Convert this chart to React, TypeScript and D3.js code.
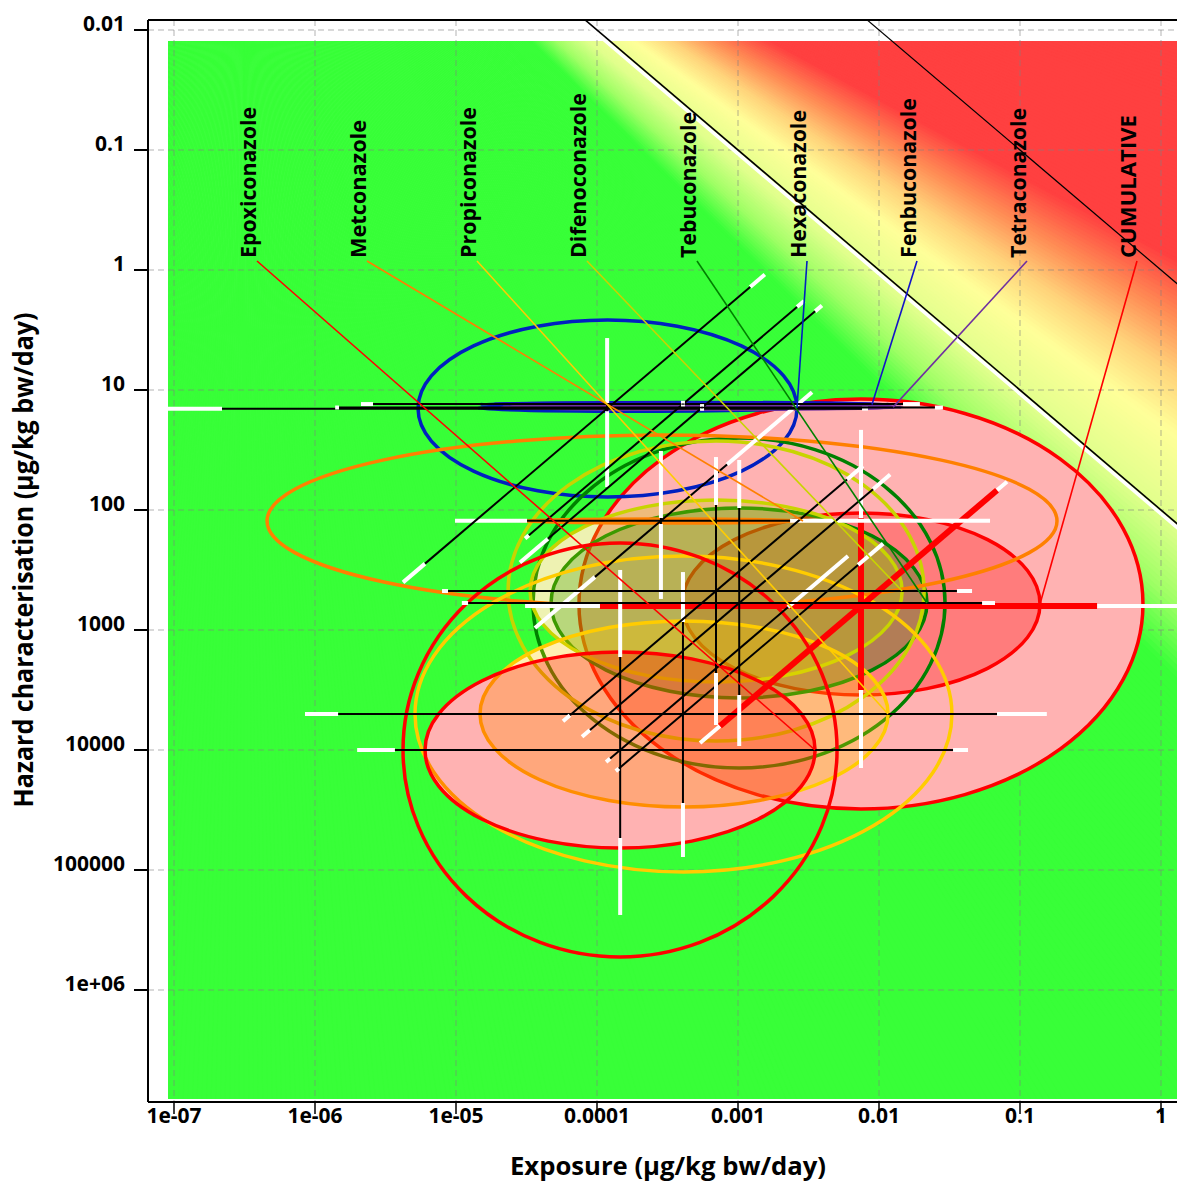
import React from "react";
import * as d3 from "d3";

// ---------- data ----------
const substances = ["Epoxiconazole", "Metconazole", "Propiconazole", "Difenoconazole", "Tebuconazole", "Hexaconazole", "Fenbuconazole", "Tetraconazole", "CUMULATIVE"];
const colors = ["#ff0000", "#ff8000", "#ffcc00", "#c8d400", "#008000", "#0020c0", "#1414c8", "#7030a0", "#ff0000"];
const medianExposure = [1.46e-4, 2.84e-4, 4.07e-4, 6.98e-4, 1.02e-3, 1.18e-4, 4.07e-4, 5.56e-4, 7.45e-3];
const medianHazard = [1.0e4, 123, 5010, 473, 596, 14.3, 13.1, 14.0, 631];

// exposure uncertainty [outer lo, inner lo, inner hi, outer hi]
const exposureBars = [
  [1.99e-6, 3.69e-6, 0.0335, 0.0428],
  [9.84e-6, 3.19e-5, 2.34e-3, 0.0613],
  [8.49e-7, 1.46e-6, 0.0687, 0.155],
  [7.96e-6, 8.78e-6, 0.0357, 0.0457],
  [1.1e-5, 1.22e-5, 0.0538, 0.0665],
  [9.07e-8, 2.19e-7, 7.58e-3, 8.35e-3],
  [2.12e-6, 2.58e-6, 0.0148, 0.0195],
  [1.39e-6, 1.48e-6, 0.0249, 0.0284],
  [3.09e-5, 1.05e-4, 0.352, 2.0],
];
// hazard uncertainty [outer lo, inner lo, inner hi, outer hi]
const hazardBars = [
  [316, 1679, 54100, 237000],
  [32.2, 116.6, 130.8, 551],
  [329, 858, 27650, 77900],
  [36.2, 90.9, 2282, 6190],
  [38.3, 96.2, 3480, 9260],
  [3.69, 13.3, 15.0, 64.3],
  [12.3, 13.0, 13.2, 13.9],
  [13.1, 13.8, 14.2, 14.9],
  [21.5, 116.6, 3162, 14130],
];
// risk uncertainty, as exposure at the ends of the diagonal [outer lo, inner lo, inner hi, outer hi]
const riskBars = [
  [1.16e-4, 1.24e-4, 2.26e-3, 6.03e-3],
  [3.63e-5, 9.68e-5, 8.36e-4, 3.35e-3],
  [1.36e-4, 1.43e-4, 7.1e-3, 0.0107],
  [5.74e-5, 6.43e-5, 5.93e-3, 7.7e-3],
  [7.83e-5, 8.92e-5, 9.07e-3, 0.012],
  [4.21e-6, 6.03e-6, 1.22e-3, 1.55e-3],
  [3.09e-5, 3.29e-5, 2.62e-3, 2.94e-3],
  [2.84e-5, 4.49e-5, 3.52e-3, 3.94e-3],
  [5.38e-4, 7.45e-4, 0.0687, 0.0809],
];
// ellipse extents [exposure lo, exposure hi, hazard lo, hazard hi]
const outerEllipses = [
  [4.21e-6, 5.04e-3, 188, 531000],
  [4.57e-7, 0.183, 23.7, 643],
  [5.12e-6, 0.0329, 242, 103900],
  [2.34e-5, 0.0209, 26.6, 8410],
  [3.52e-5, 0.0294, 25.1, 14130],
  [5.38e-6, 2.62e-3, 2.61, 77.9],
  [1.48e-5, 0.0118, 12.7, 13.7],
  [2.12e-5, 0.0146, 13.3, 14.5],
  [7.45e-5, 0.745, 11.9, 31000],
];
const innerEllipses = [
  [6.03e-6, 3.52e-3, 1526, 65560],
  [2.84e-5, 2.89e-3, 118.9, 128.3],
  [1.48e-5, 0.0116, 841, 29850],
  [3.35e-5, 0.0146, 82.5, 2713],
  [4.72e-5, 0.0219, 96.2, 3687],
  [1.41e-5, 2.62e-3, 13.3, 15.0],
  [1.86e-5, 8.92e-3, 12.9, 13.5],
  [2.46e-5, 0.0126, 13.6, 14.2],
  [4.01e-4, 0.1386, 105.9, 3480],
];
const innerFilled = [true, false, true, true, true, false, false, false, true];
const outerFilled = [false, false, false, false, false, false, false, false, true];
const drawOrder = [8, 5, 6, 7, 4, 3, 1, 2, 0];

const xTicks = [1e-7, 1e-6, 1e-5, 1e-4, 1e-3, 1e-2, 1e-1, 1];
const xTickLabels = ["1e-07", "1e-06", "1e-05", "0.0001", "0.001", "0.01", "0.1", "1"];
const yTicks = [0.01, 0.1, 1, 10, 100, 1000, 1e4, 1e5, 1e6];
const yTickLabels = ["0.01", "0.1", "1", "10", "100", "1000", "10000", "100000", "1e+06"];
const moeRatios = [100, 1]; // hazard = ratio * exposure

// background colour ramp (angle in degrees -> colour)
const rampAngles = [28.3, 31, 33.5, 36, 39.5, 42.2, 44.6];
const rampColors = ["#ff4040", "#ff8c55", "#ffd27a", "#ffff99", "#e0ff8c", "#a0ff66", "#38ff38"];

// ---------- layout ----------
const W = 1177, H = 1182;
const plot = { left: 148, right: 1177, top: 20, bottom: 1102 };
const bg = { left: 168, right: 1177, top: 41, bottom: 1099 };
const FONT = "'Open Sans', 'DejaVu Sans', sans-serif";
const labelLengths = [151, 138, 151, 165, 146, 148, 160, 150, 143];

const x = d3.scaleLog().domain([1e-7, 1]).range([174, 1161]);
const y = d3.scaleLog().domain([0.01, 1e6]).range([30, 990]);

function ell(b: number[]) {
  const x0 = x(b[0]), x1 = x(b[1]), y0 = y(b[2]), y1 = y(b[3]);
  return { cx: (x0 + x1) / 2, cy: (y0 + y1) / 2, rx: Math.abs(x1 - x0) / 2, ry: Math.max(Math.abs(y1 - y0) / 2, 0.5) };
}

const ramp = d3.scaleLinear<string>().domain(rampAngles).range(rampColors).interpolate(d3.interpolateRgb).clamp(true);

function Background() {
  const c = [244, -242];
  const R = 3000;
  const step = 0.2;
  const wedges: JSX.Element[] = [];
  for (let a = 5; a < 125; a += step) {
    const a0 = (a * Math.PI) / 180, a1 = ((a + step + 0.06) * Math.PI) / 180;
    const d = `M${c[0]},${c[1]}L${c[0] + R * Math.cos(a0)},${c[1] + R * Math.sin(a0)}L${c[0] + R * Math.cos(a1)},${c[1] + R * Math.sin(a1)}Z`;
    const col = ramp(a + step / 2);
    wedges.push(<path key={a} d={d} fill={col} stroke={col} strokeWidth={0.6} />);
  }
  return <g clipPath="url(#bgClip)">{wedges}</g>;
}

function Bar({ pts, main, mainW, whiteW }: { pts: number[][]; main: string; mainW: number; whiteW: number }) {
  const line = d3.line();
  return (
    <g>
      <path d={line([pts[0], pts[1]] as any) || ""} stroke="#fff" strokeWidth={whiteW} fill="none" />
      <path d={line([pts[2], pts[3]] as any) || ""} stroke="#fff" strokeWidth={whiteW} fill="none" />
      <path d={line([pts[1], pts[2]] as any) || ""} stroke={main} strokeWidth={mainW} fill="none" />
    </g>
  );
}

export default function App() {
  const barOrder = [8, 0, 1, 2, 3, 4, 5, 6, 7];
  return (
    <svg width={W} height={H} style={{ position: "absolute", left: 0, top: 0, background: "#fff" }} fontFamily={FONT}>
      <defs>
        <clipPath id="bgClip"><rect x={bg.left} y={bg.top} width={bg.right - bg.left} height={bg.bottom - bg.top} /></clipPath>
        <clipPath id="plotClip"><rect x={plot.left} y={plot.top} width={plot.right - plot.left} height={plot.bottom - plot.top} /></clipPath>
      </defs>
      <rect x={0} y={0} width={W} height={H} fill="#fff" />
      <Background />
      {/* grid */}
      <g stroke="#808080" strokeOpacity={0.4} strokeWidth={1.5} strokeDasharray="6,4">
        {xTicks.map((t, i) => <line key={"gx" + i} x1={x(t)} x2={x(t)} y1={plot.top} y2={plot.bottom} />)}
        {yTicks.map((t, i) => <line key={"gy" + i} x1={plot.left} x2={plot.right} y1={y(t)} y2={y(t)} />)}
      </g>
      <g clipPath="url(#plotClip)">
        {/* MOE lines */}
        {moeRatios.map((r, i) => {
          const p0: [number, number] = [x(1e-9), y(r * 1e-9)];
          const p1: [number, number] = [x(10), y(r * 10)];
          return (
            <g key={"moe" + i}>
              {i === 0 && <line x1={p0[0] - 1.5} y1={p0[1] + 2.5} x2={p1[0] - 1.5} y2={p1[1] + 2.5} stroke="#fff" strokeWidth={3.5} />}
              <line x1={p0[0]} y1={p0[1]} x2={p1[0]} y2={p1[1]} stroke="#000" strokeWidth={i === 0 ? 1.6 : 1.2} />
            </g>
          );
        })}
        {/* white bases for filled ellipses */}
        {drawOrder.map((i) => (
          <g key={"wb" + i}>
            {outerFilled[i] && <ellipse {...ell(outerEllipses[i])} fill="#fff" />}
            {innerFilled[i] && <ellipse {...ell(innerEllipses[i])} fill="#fff" />}
          </g>
        ))}
        {/* ellipses */}
        {drawOrder.map((i) => (
          <g key={"el" + i}>
            {outerFilled[i] && <ellipse {...ell(outerEllipses[i])} fill={colors[i]} fillOpacity={0.3} />}
            {innerFilled[i] && <ellipse {...ell(innerEllipses[i])} fill={colors[i]} fillOpacity={0.3} />}
            <ellipse {...ell(outerEllipses[i])} fill="none" stroke={colors[i]} strokeWidth={3.5} />
            <ellipse {...ell(innerEllipses[i])} fill="none" stroke={colors[i]} strokeWidth={3.5} />
          </g>
        ))}
        {/* uncertainty bars */}
        {barOrder.map((i) => {
          const cum = i === 8;
          const main = cum ? "#ff0000" : "#000";
          const mainW = cum ? 6 : 2;
          const whiteW = 4;
          const cy = y(medianHazard[i]);
          const cx = x(medianExposure[i]);
          const prod = medianExposure[i] * medianHazard[i];
          const hp = exposureBars[i].map((e) => [x(e), cy]);
          const vp = hazardBars[i].map((h) => [cx, y(h)]);
          const dp = riskBars[i].map((e) => [x(e), y(prod / e)]);
          return (
            <g key={"bar" + i}>
              <Bar pts={dp} main={main} mainW={mainW} whiteW={whiteW} />
              <Bar pts={hp} main={main} mainW={mainW} whiteW={whiteW} />
              <Bar pts={vp} main={main} mainW={mainW} whiteW={whiteW} />
            </g>
          );
        })}
        {/* leader lines */}
        {substances.map((s, i) => {
          const e = ell(innerEllipses[i]);
          const lx = 257 + i * 110;
          return <line key={"ld" + i} x1={lx} y1={261} x2={e.cx + e.rx} y2={e.cy} stroke={colors[i]} strokeWidth={1.6} />;
        })}
      </g>
      {/* substance labels */}
      {substances.map((s, i) => {
        const lx = 256 + i * 110;
        return (
          <text key={"lb" + i} transform={`translate(${lx},258) rotate(-90)`} fontSize={20.5} fontWeight="bold" fill="#000"
            textLength={labelLengths[i]} lengthAdjust="spacingAndGlyphs">{s}</text>
        );
      })}
      {/* axes */}
      <g stroke="#000" strokeWidth={2}>
        <line x1={plot.left} x2={plot.right} y1={plot.top} y2={plot.top} />
        <line x1={plot.left} x2={plot.left} y1={plot.top} y2={plot.bottom} />
        <line x1={plot.left} x2={plot.right} y1={plot.bottom} y2={plot.bottom} />
        {yTicks.map((t, i) => <line key={"ty" + i} x1={134} x2={plot.left} y1={y(t)} y2={y(t)} />)}
      </g>
      {yTicks.map((t, i) => (
        <text key={"yl" + i} x={125} y={y(t) + 1} textAnchor="end" fontSize={21} fontWeight="bold">{yTickLabels[i]}</text>
      ))}
      {xTicks.map((t, i) => (
        <text key={"xl" + i} x={x(t)} y={1123} textAnchor="middle" fontSize={21} fontWeight="bold">{xTickLabels[i]}</text>
      ))}
      <g stroke="#000" strokeWidth={1.5}>
        {xTicks.map((t, i) => <line key={"tx" + i} x1={x(t)} x2={x(t)} y1={plot.bottom} y2={plot.bottom + 12} />)}
      </g>
      <text x={668} y={1175} textAnchor="middle" fontSize={25} fontWeight="bold" textLength={316} lengthAdjust="spacingAndGlyphs">Exposure (µg/kg bw/day)</text>
      <text transform="translate(33,560) rotate(-90)" textAnchor="middle" fontSize={26} fontWeight="bold" textLength={495} lengthAdjust="spacingAndGlyphs">Hazard characterisation (µg/kg bw/day)</text>
    </svg>
  );
}
